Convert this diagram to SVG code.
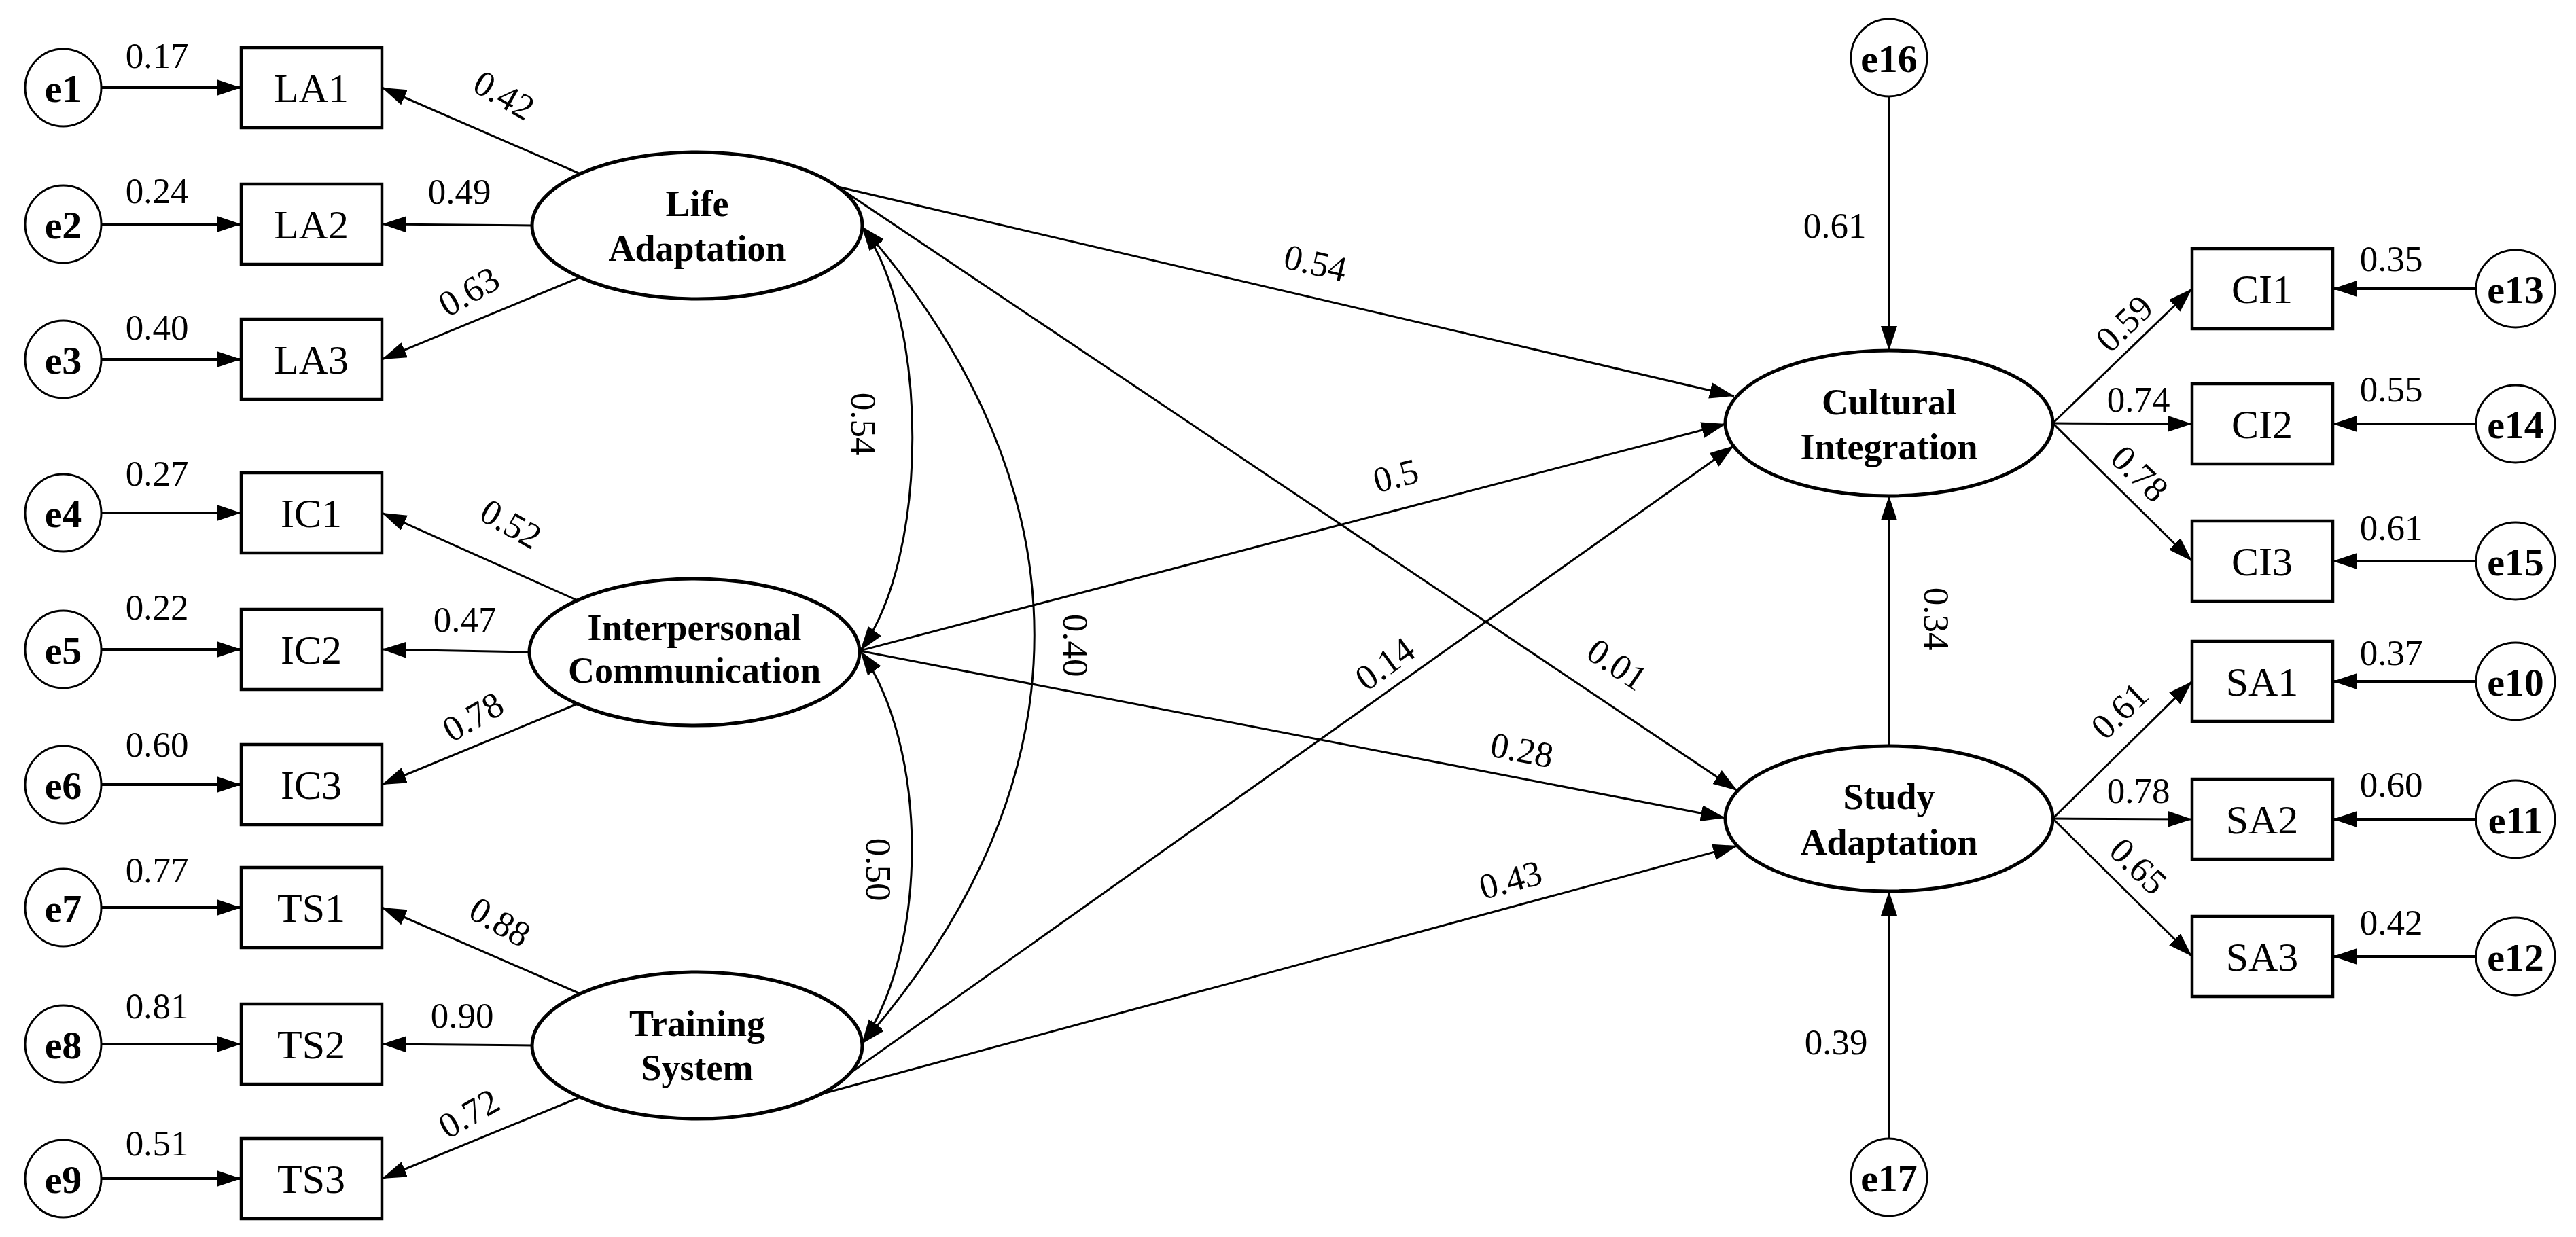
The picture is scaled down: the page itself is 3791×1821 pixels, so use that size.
<svg xmlns="http://www.w3.org/2000/svg" width="3791" height="1821" viewBox="0 0 3791 1821">
<defs>
<style>
.bg{fill:#fff}
.err{fill:#fff;stroke:#000;stroke-width:3}
.box{fill:#fff;stroke:#000;stroke-width:4.5}
.lat{fill:#fff;stroke:#000;stroke-width:5}
.ln{fill:none;stroke:#000;stroke-width:3;marker-end:url(#ah)}
.eln{fill:none;stroke:#000;stroke-width:4;marker-end:url(#ah)}
.cov{fill:none;stroke:#000;stroke-width:3;marker-start:url(#ahs);marker-end:url(#ahs)}
.et{font-family:"Liberation Serif",serif;font-weight:bold;font-size:58px;text-anchor:middle}
.bt{font-family:"Liberation Serif",serif;font-size:60px;text-anchor:middle}
.lt{font-family:"Liberation Serif",serif;font-weight:bold;font-size:54px;text-anchor:middle}
.nt{font-family:"Liberation Serif",serif;font-size:53px;text-anchor:middle}
</style>
<marker id="ah" markerUnits="userSpaceOnUse" markerWidth="40" markerHeight="26" refX="36" refY="12" orient="auto"><path d="M0,0 L36,12 L0,24 z" fill="#000"/></marker>
<marker id="ahs" markerUnits="userSpaceOnUse" markerWidth="40" markerHeight="26" refX="36" refY="12" orient="auto-start-reverse"><path d="M0,0 L36,12 L0,24 z" fill="#000"/></marker>
</defs>
<rect class="bg" x="0" y="0" width="3791" height="1821"/>

<g id="connectors">
<line class="eln" x1="150" y1="129" x2="355" y2="129"/>
<line class="eln" x1="150" y1="330" x2="355" y2="330"/>
<line class="eln" x1="150" y1="529" x2="355" y2="529"/>
<line class="eln" x1="150" y1="755" x2="355" y2="755"/>
<line class="eln" x1="150" y1="956" x2="355" y2="956"/>
<line class="eln" x1="150" y1="1155" x2="355" y2="1155"/>
<line class="eln" x1="150" y1="1336" x2="355" y2="1336"/>
<line class="eln" x1="150" y1="1537" x2="355" y2="1537"/>
<line class="eln" x1="150" y1="1735" x2="355" y2="1735"/>
<line class="ln" x1="854" y1="256" x2="562" y2="129"/>
<line class="ln" x1="783" y1="332" x2="562" y2="330"/>
<line class="ln" x1="854" y1="408" x2="562" y2="529"/>
<line class="ln" x1="850" y1="884" x2="562" y2="755"/>
<line class="ln" x1="779" y1="960" x2="562" y2="956"/>
<line class="ln" x1="850" y1="1036" x2="562" y2="1155"/>
<line class="ln" x1="854" y1="1463" x2="562" y2="1336"/>
<line class="ln" x1="783" y1="1539" x2="562" y2="1537"/>
<line class="ln" x1="854" y1="1615" x2="562" y2="1735"/>
<line class="ln" x1="1233" y1="275" x2="2552" y2="583"/>
<line class="ln" x1="1233" y1="275" x2="2557" y2="1164"/>
<line class="ln" x1="1265" y1="958" x2="2540" y2="624"/>
<line class="ln" x1="1265" y1="958" x2="2539" y2="1204"/>
<line class="ln" x1="1207" y1="1611" x2="2552" y2="656"/>
<line class="ln" x1="1207" y1="1611" x2="2557" y2="1245"/>
<line class="ln" x1="2780" y1="1097" x2="2780" y2="730"/>
<line class="ln" x1="2780" y1="142" x2="2780" y2="516"/>
<line class="ln" x1="2780" y1="1676" x2="2780" y2="1312"/>
<path class="cov" d="M1268,333 C1368,470 1368,820 1266,958"/>
<path class="cov" d="M1266,958 C1367,1100 1367,1395 1268,1537"/>
<path class="cov" d="M1268,333 C1607,720 1607,1150 1268,1537"/>
<line class="ln" x1="3021" y1="623" x2="3226" y2="425"/>
<line class="ln" x1="3021" y1="623" x2="3226" y2="624"/>
<line class="ln" x1="3021" y1="623" x2="3226" y2="826"/>
<line class="ln" x1="3021" y1="1205" x2="3226" y2="1003"/>
<line class="ln" x1="3021" y1="1205" x2="3226" y2="1206"/>
<line class="ln" x1="3021" y1="1205" x2="3226" y2="1408"/>
<line class="eln" x1="3644" y1="425" x2="3433" y2="425"/>
<line class="eln" x1="3644" y1="624" x2="3433" y2="624"/>
<line class="eln" x1="3644" y1="826" x2="3433" y2="826"/>
<line class="eln" x1="3644" y1="1003" x2="3433" y2="1003"/>
<line class="eln" x1="3644" y1="1206" x2="3433" y2="1206"/>
<line class="eln" x1="3644" y1="1408" x2="3433" y2="1408"/>
</g>

<g id="connector-labels">
<text class="nt" x="231" y="100">0.17</text>
<text class="nt" x="231" y="299">0.24</text>
<text class="nt" x="231" y="500">0.40</text>
<text class="nt" x="231" y="715">0.27</text>
<text class="nt" x="231" y="912">0.22</text>
<text class="nt" x="231" y="1114">0.60</text>
<text class="nt" x="231" y="1299">0.77</text>
<text class="nt" x="231" y="1499">0.81</text>
<text class="nt" x="231" y="1701">0.51</text>
<text class="nt" x="676" y="300">0.49</text>
<text class="nt" x="684" y="930">0.47</text>
<text class="nt" x="680" y="1513">0.90</text>
<text class="nt" transform="translate(742,140) rotate(30)" y="18">0.42</text>
<text class="nt" transform="translate(690,429) rotate(-30)" y="18">0.63</text>
<text class="nt" transform="translate(752,771) rotate(30)" y="18">0.52</text>
<text class="nt" transform="translate(696,1055) rotate(-30)" y="18">0.78</text>
<text class="nt" transform="translate(736,1357) rotate(30)" y="18">0.88</text>
<text class="nt" transform="translate(690,1639) rotate(-30)" y="18">0.72</text>
<text class="nt" transform="translate(1271,624) rotate(90)" y="18">0.54</text>
<text class="nt" transform="translate(1583,950) rotate(90)" y="18">0.40</text>
<text class="nt" transform="translate(1293,1280) rotate(90)" y="18">0.50</text>
<text class="nt" transform="translate(1936,387) rotate(13.2)" y="18">0.54</text>
<text class="nt" transform="translate(2054,700) rotate(-14.6)" y="18">0.5</text>
<text class="nt" transform="translate(2380,978) rotate(34)" y="18">0.01</text>
<text class="nt" transform="translate(2038,977) rotate(-36)" y="18">0.14</text>
<text class="nt" transform="translate(2240,1104) rotate(11)" y="18">0.28</text>
<text class="nt" transform="translate(2223,1295) rotate(-15)" y="18">0.43</text>
<text class="nt" transform="translate(2850,911) rotate(90)" y="18">0.34</text>
<text class="nt" x="2700" y="350">0.61</text>
<text class="nt" x="2702" y="1552">0.39</text>
<text class="nt" transform="translate(3126,476) rotate(-44)" y="18">0.59</text>
<text class="nt" x="3147" y="606">0.74</text>
<text class="nt" transform="translate(3149,697) rotate(44)" y="18">0.78</text>
<text class="nt" transform="translate(3119,1046) rotate(-44)" y="18">0.61</text>
<text class="nt" x="3147" y="1182">0.78</text>
<text class="nt" transform="translate(3147,1275) rotate(44)" y="18">0.65</text>
<text class="nt" x="3519" y="399">0.35</text>
<text class="nt" x="3519" y="591">0.55</text>
<text class="nt" x="3519" y="795">0.61</text>
<text class="nt" x="3519" y="979">0.37</text>
<text class="nt" x="3519" y="1173">0.60</text>
<text class="nt" x="3519" y="1376">0.42</text>
</g>

<g id="e1"><ellipse class="err" cx="93" cy="129" rx="56" ry="57"/><text class="et" x="93" y="150">e1</text></g>
<g id="e2"><ellipse class="err" cx="93" cy="330" rx="56" ry="57"/><text class="et" x="93" y="351">e2</text></g>
<g id="e3"><ellipse class="err" cx="93" cy="529" rx="56" ry="57"/><text class="et" x="93" y="550">e3</text></g>
<g id="e4"><ellipse class="err" cx="93" cy="755" rx="56" ry="57"/><text class="et" x="93" y="776">e4</text></g>
<g id="e5"><ellipse class="err" cx="93" cy="956" rx="56" ry="57"/><text class="et" x="93" y="977">e5</text></g>
<g id="e6"><ellipse class="err" cx="93" cy="1155" rx="56" ry="57"/><text class="et" x="93" y="1176">e6</text></g>
<g id="e7"><ellipse class="err" cx="93" cy="1336" rx="56" ry="57"/><text class="et" x="93" y="1357">e7</text></g>
<g id="e8"><ellipse class="err" cx="93" cy="1537" rx="56" ry="57"/><text class="et" x="93" y="1558">e8</text></g>
<g id="e9"><ellipse class="err" cx="93" cy="1735" rx="56" ry="57"/><text class="et" x="93" y="1756">e9</text></g>

<g id="LA1"><rect class="box" x="355" y="70" width="207" height="118"/><text class="bt" x="458" y="150">LA1</text></g>
<g id="LA2"><rect class="box" x="355" y="271" width="207" height="118"/><text class="bt" x="458" y="351">LA2</text></g>
<g id="LA3"><rect class="box" x="355" y="470" width="207" height="118"/><text class="bt" x="458" y="550">LA3</text></g>
<g id="IC1"><rect class="box" x="355" y="696" width="207" height="118"/><text class="bt" x="458" y="776">IC1</text></g>
<g id="IC2"><rect class="box" x="355" y="897" width="207" height="118"/><text class="bt" x="458" y="977">IC2</text></g>
<g id="IC3"><rect class="box" x="355" y="1096" width="207" height="118"/><text class="bt" x="458" y="1176">IC3</text></g>
<g id="TS1"><rect class="box" x="355" y="1277" width="207" height="118"/><text class="bt" x="458" y="1357">TS1</text></g>
<g id="TS2"><rect class="box" x="355" y="1478" width="207" height="118"/><text class="bt" x="458" y="1558">TS2</text></g>
<g id="TS3"><rect class="box" x="355" y="1676" width="207" height="118"/><text class="bt" x="458" y="1756">TS3</text></g>

<g id="LifeAdaptation"><ellipse class="lat" cx="1026" cy="332" rx="243" ry="108"/><text class="lt" x="1026" y="318">Life</text><text class="lt" x="1026" y="384">Adaptation</text></g>
<g id="InterpersonalCommunication"><ellipse class="lat" cx="1022" cy="960" rx="243" ry="108"/><text class="lt" x="1022" y="942">Interpersonal</text><text class="lt" x="1022" y="1005">Communication</text></g>
<g id="TrainingSystem"><ellipse class="lat" cx="1026" cy="1539" rx="243" ry="108"/><text class="lt" x="1026" y="1525">Training</text><text class="lt" x="1026" y="1590">System</text></g>
<g id="CulturalIntegration"><ellipse class="lat" cx="2780" cy="623" rx="241" ry="107"/><text class="lt" x="2780" y="610">Cultural</text><text class="lt" x="2780" y="676">Integration</text></g>
<g id="StudyAdaptation"><ellipse class="lat" cx="2780" cy="1205" rx="241" ry="107"/><text class="lt" x="2780" y="1191">Study</text><text class="lt" x="2780" y="1258">Adaptation</text></g>

<g id="e16"><ellipse class="err" cx="2780" cy="85" rx="56" ry="57"/><text class="et" x="2780" y="106">e16</text></g>
<g id="e17"><ellipse class="err" cx="2780" cy="1733" rx="56" ry="57"/><text class="et" x="2780" y="1754">e17</text></g>

<g id="CI1"><rect class="box" x="3226" y="366" width="207" height="118"/><text class="bt" x="3329" y="446">CI1</text></g>
<g id="CI2"><rect class="box" x="3226" y="565" width="207" height="118"/><text class="bt" x="3329" y="645">CI2</text></g>
<g id="CI3"><rect class="box" x="3226" y="767" width="207" height="118"/><text class="bt" x="3329" y="847">CI3</text></g>
<g id="SA1"><rect class="box" x="3226" y="944" width="207" height="118"/><text class="bt" x="3329" y="1024">SA1</text></g>
<g id="SA2"><rect class="box" x="3226" y="1147" width="207" height="118"/><text class="bt" x="3329" y="1227">SA2</text></g>
<g id="SA3"><rect class="box" x="3226" y="1349" width="207" height="118"/><text class="bt" x="3329" y="1429">SA3</text></g>

<g id="e13"><ellipse class="err" cx="3702" cy="425" rx="58" ry="57"/><text class="et" x="3702" y="446">e13</text></g>
<g id="e14"><ellipse class="err" cx="3702" cy="624" rx="58" ry="57"/><text class="et" x="3702" y="645">e14</text></g>
<g id="e15"><ellipse class="err" cx="3702" cy="826" rx="58" ry="57"/><text class="et" x="3702" y="847">e15</text></g>
<g id="e10"><ellipse class="err" cx="3702" cy="1003" rx="58" ry="57"/><text class="et" x="3702" y="1024">e10</text></g>
<g id="e11"><ellipse class="err" cx="3702" cy="1206" rx="58" ry="57"/><text class="et" x="3702" y="1227">e11</text></g>
<g id="e12"><ellipse class="err" cx="3702" cy="1408" rx="58" ry="57"/><text class="et" x="3702" y="1429">e12</text></g>
</svg>
